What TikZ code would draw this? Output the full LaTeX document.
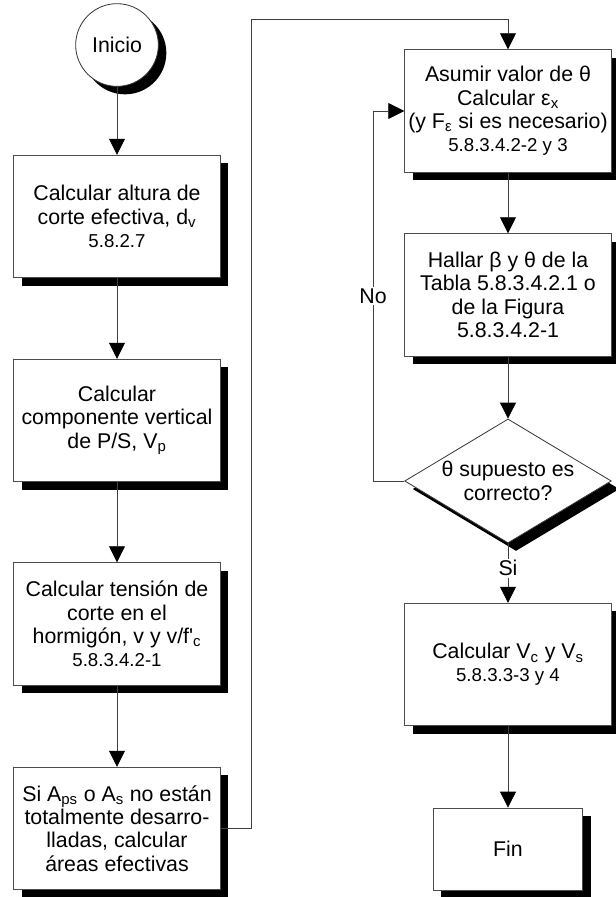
\documentclass[tikz,border=0pt]{standalone}
\usepackage{fontspec}
\setmainfont{Liberation Sans}
\usetikzlibrary{arrows.meta,shapes.geometric,shadows}

\newcommand{\refnum}[1]{{\fontsize{14}{16}\selectfont #1}}

\tikzset{
  boxshadow/.style={drop shadow={shadow xshift=6pt,shadow yshift=-6pt,fill=black,opacity=1}},
  stepbox/.style={rectangle,draw=black!70,fill=white,line width=0.6pt,boxshadow,
    align=center,minimum width=155pt,minimum height=92pt,inner sep=2pt},
  startnode/.style={circle,draw=black!80,fill=white,line width=0.6pt,boxshadow,
    minimum size=62pt,inner sep=0pt},
  endbox/.style={stepbox,minimum width=112pt,minimum height=61.5pt},
  testnode/.style={diamond,draw=black!80,fill=white,line width=0.6pt,boxshadow,
    align=center,aspect=1.67,minimum width=155pt,minimum height=93pt,inner sep=0pt},
  flowlabel/.style={fill=white,inner sep=1.5pt},
  flow/.style={draw=black!75,line width=0.6pt,-{Triangle[width=12pt,length=12pt,color=black]}}
}

\begin{document}
\begin{tikzpicture}[x=0.75pt,y=-0.75pt,font=\fontsize{16}{17.5}\selectfont]

      \useasboundingbox (0,0) rectangle (616,897);

      % Nodes
      \node[startnode] (inicio) at (117,45) {Inicio};
      \node[stepbox] (calc1) at (117,216.5) {Calcular altura de\\corte efectiva, d\textsubscript{v}\\\refnum{5.8.2.7}};
      \node[stepbox] (calc2) at (117,420.5) {Calcular\\componente vertical\\de P/S, V\textsubscript{p}};
      \node[stepbox] (calc3) at (117,624) {Calcular tensión de\\corte en el\\hormigón, v y v/f\textquotesingle\textsubscript{c}\\\refnum{5.8.3.4.2-1}};
      \node[stepbox] (calc4) at (117,828.5) {Si A\textsubscript{ps} o A\textsubscript{s} no están\\totalmente desarro-\\lladas, calcular\\áreas efectivas};

      \node[stepbox] (asumir) at (508,111) {Asumir valor de θ\\Calcular ε\textsubscript{x}\\(y F\textsubscript{ε} si es necesario)\\\refnum{5.8.3.4.2-2 y 3}};
      \node[stepbox] (hallar) at (508,295) {Hallar β y θ de la\\Tabla 5.8.3.4.2.1 o\\de la Figura\\5.8.3.4.2-1};
      \node[testnode] (check) at (508,481) {θ supuesto es\\correcto?};
      \node[stepbox] (calcv) at (508,664.5) {Calcular V\textsubscript{c} y V\textsubscript{s}\\\refnum{5.8.3.3-3 y 4}};
      \node[endbox] (fin) at (508,849) {Fin};

      \coordinate (upturn) at (251,19);
      \coordinate (noturn) at (373,481);

      % Edges
      \begin{scope}[every edge/.style={draw,flow}]
        \path (inicio) edge (calc1);
        \path (calc1) edge (calc2);
        \path (calc2) edge (calc3);
        \path (calc3) edge (calc4);

        \path (asumir) edge (hallar);
        \path (hallar) edge (check);
        \path (check) edge node[flowlabel,pos=0.42] {Si} (calcv);
        \path (calcv) edge (fin);
      \end{scope}

      \draw[flow] (calc4.east) -| (upturn) -| (asumir.north);
      \draw[flow] (check.west) -- (noturn) -- node[flowlabel] {No} (noturn |- asumir.west) -- (asumir.west);

    \end{tikzpicture}
\end{document}
